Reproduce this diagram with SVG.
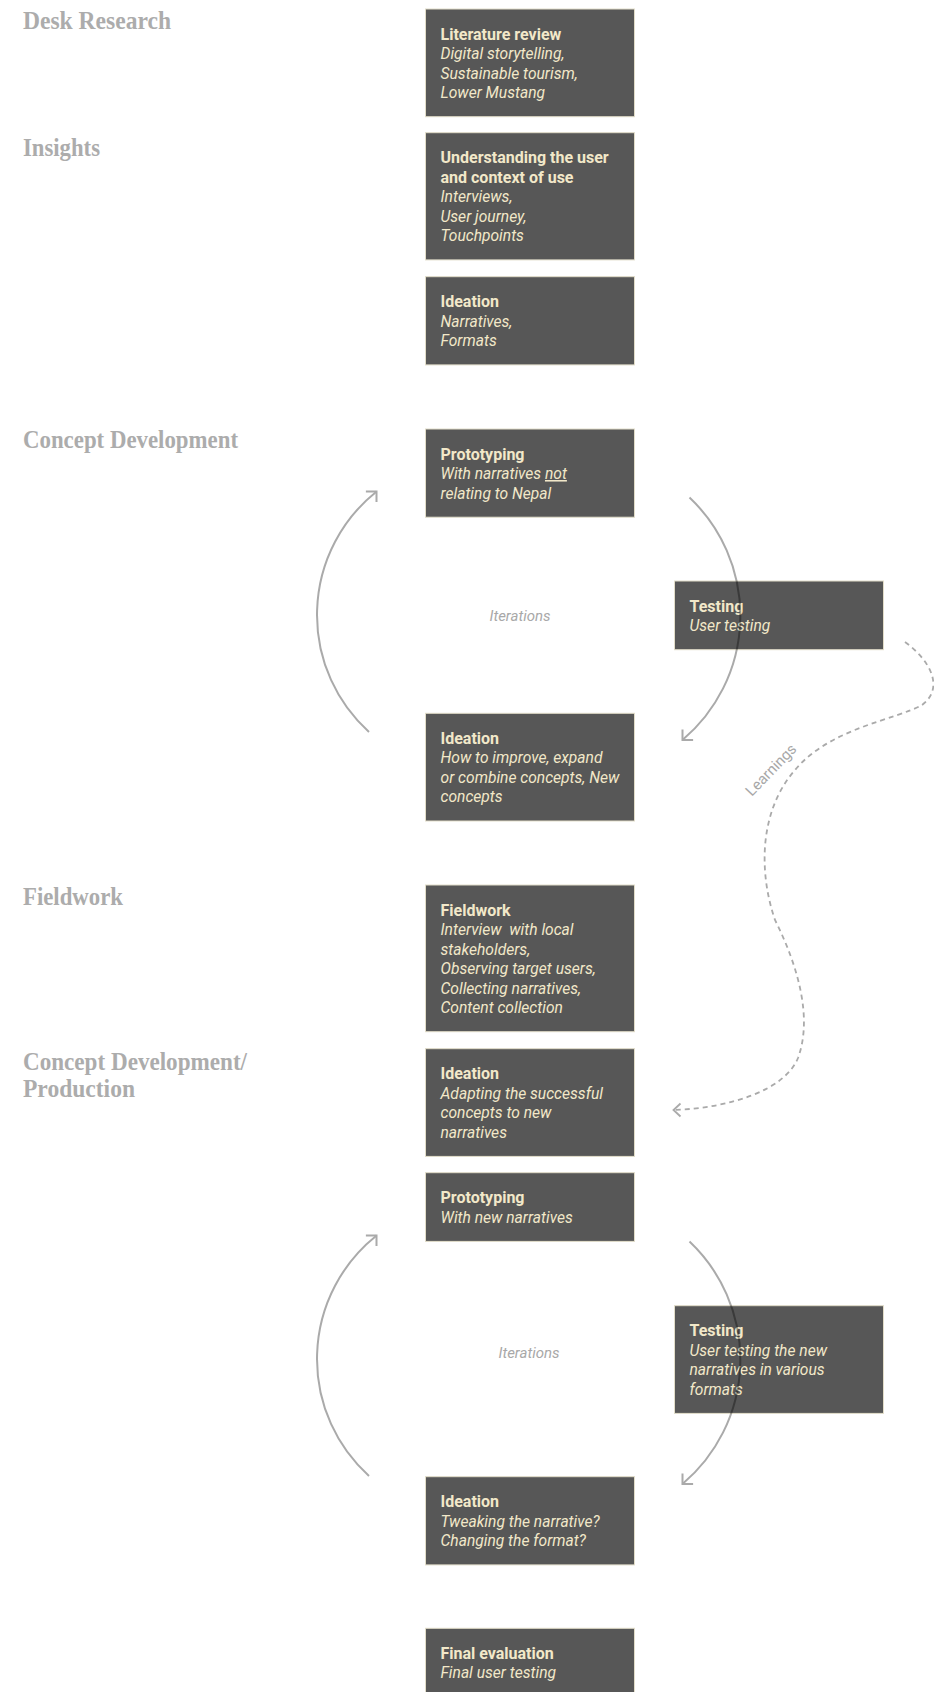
<svg xmlns="http://www.w3.org/2000/svg" width="934" height="1692" viewBox="0 0 934 1692">
<style>
.h{font-family:"Liberation Serif",serif;font-size:26px;font-weight:bold;fill:#acacac;}
.box{fill:#575757;stroke:#e2ddc9;stroke-width:1;}
.nt{font-family:Roboto,"Liberation Sans",sans-serif;font-size:16px;fill:#f2e8c9;}
.b{font-weight:bold;}
.i{font-style:italic;font-size:15.6px;}
.lbl{font-family:Roboto,"Liberation Sans",sans-serif;font-size:15px;fill:#a8a8a8;}
.arc{fill:none;stroke:#000;stroke-width:2;}
.dash{fill:none;stroke:#000;stroke-width:1.8;stroke-dasharray:5 4;}
</style>
<defs>
<marker id="ah" markerUnits="userSpaceOnUse" markerWidth="20" markerHeight="20" viewBox="-10 -10 20 20" refX="0" refY="0" orient="auto">
<path d="M -7.5 -7.5 L 0 0 L -7.5 7.5" fill="none" stroke="#000" stroke-width="2"/>
</marker>
<marker id="ahd" markerUnits="userSpaceOnUse" markerWidth="20" markerHeight="20" viewBox="-10 -10 20 20" refX="0" refY="0" orient="auto">
<path d="M -7 -6.5 L 0 0 L -7 6.5" fill="none" stroke="#000" stroke-width="1.8"/>
</marker>
</defs>
<rect width="934" height="1692" fill="#fff"/>

<g id="headings">
<text class="h" x="23" y="28.5" textLength="148" lengthAdjust="spacingAndGlyphs">Desk Research</text>
<text class="h" x="23" y="156" textLength="77" lengthAdjust="spacingAndGlyphs">Insights</text>
<text class="h" x="23" y="447.7" textLength="215" lengthAdjust="spacingAndGlyphs">Concept Development</text>
<text class="h" x="23" y="905" textLength="100" lengthAdjust="spacingAndGlyphs">Fieldwork</text>
<text class="h" x="23" y="1070" textLength="224" lengthAdjust="spacingAndGlyphs">Concept Development/</text>
<text class="h" x="23" y="1097.3" textLength="112" lengthAdjust="spacingAndGlyphs">Production</text>
</g>

<g id="n-literature">
<rect class="box" x="425.5" y="9" width="209" height="107.7"/>
<text class="nt"><tspan class="b" x="440.5" y="39.5">Literature review</tspan><tspan class="i" x="440.5" y="59">Digital storytelling,</tspan><tspan class="i" x="440.5" y="78.5">Sustainable tourism,</tspan><tspan class="i" x="440.5" y="98">Lower Mustang</tspan></text>
</g>
<g id="n-understanding">
<rect class="box" x="425.5" y="132.7" width="209" height="127.2"/>
<text class="nt"><tspan class="b" x="440.5" y="163.2">Understanding the user</tspan><tspan class="b" x="440.5" y="182.7">and context of use</tspan><tspan class="i" x="440.5" y="202.2">Interviews,</tspan><tspan class="i" x="440.5" y="221.7">User journey,</tspan><tspan class="i" x="440.5" y="241.2">Touchpoints</tspan></text>
</g>
<g id="n-ideation1">
<rect class="box" x="425.5" y="276.7" width="209" height="88.2"/>
<text class="nt"><tspan class="b" x="440.5" y="307.2">Ideation</tspan><tspan class="i" x="440.5" y="326.7">Narratives,</tspan><tspan class="i" x="440.5" y="346.2">Formats</tspan></text>
</g>
<g id="n-prototyping1">
<rect class="box" x="425.5" y="429" width="209" height="88.2"/>
<text class="nt"><tspan class="b" x="440.5" y="459.5">Prototyping</tspan><tspan class="i" x="440.5" y="479">With narratives <tspan text-decoration="underline">not</tspan></tspan><tspan class="i" x="440.5" y="498.5">relating to Nepal</tspan></text>
</g>
<g id="n-testing1">
<rect class="box" x="674.5" y="581" width="209" height="68.7"/>
<text class="nt"><tspan class="b" x="689.5" y="611.5">Testing</tspan><tspan class="i" x="689.5" y="631">User testing</tspan></text>
</g>
<g id="n-ideation2">
<rect class="box" x="425.5" y="713.3" width="209" height="107.7"/>
<text class="nt"><tspan class="b" x="440.5" y="743.8">Ideation</tspan><tspan class="i" x="440.5" y="763.3">How to improve, expand</tspan><tspan class="i" x="440.5" y="782.8">or combine concepts, New</tspan><tspan class="i" x="440.5" y="802.3">concepts</tspan></text>
</g>
<g id="n-fieldwork">
<rect class="box" x="425.5" y="885" width="209" height="146.7"/>
<text class="nt"><tspan class="b" x="440.5" y="915.5">Fieldwork</tspan><tspan class="i" x="440.5" y="935">Interview&#160; with local</tspan><tspan class="i" x="440.5" y="954.5">stakeholders,</tspan><tspan class="i" x="440.5" y="974">Observing target users,</tspan><tspan class="i" x="440.5" y="993.5">Collecting narratives,</tspan><tspan class="i" x="440.5" y="1013">Content collection</tspan></text>
</g>
<g id="n-ideation3">
<rect class="box" x="425.5" y="1048.7" width="209" height="107.7"/>
<text class="nt"><tspan class="b" x="440.5" y="1079.2">Ideation</tspan><tspan class="i" x="440.5" y="1098.7">Adapting the successful</tspan><tspan class="i" x="440.5" y="1118.2">concepts to new</tspan><tspan class="i" x="440.5" y="1137.7">narratives</tspan></text>
</g>
<g id="n-prototyping2">
<rect class="box" x="425.5" y="1172.7" width="209" height="68.7"/>
<text class="nt"><tspan class="b" x="440.5" y="1203.2">Prototyping</tspan><tspan class="i" x="440.5" y="1222.7">With new narratives</tspan></text>
</g>
<g id="n-testing2">
<rect class="box" x="674.5" y="1305.7" width="209" height="107.7"/>
<text class="nt"><tspan class="b" x="689.5" y="1336.2">Testing</tspan><tspan class="i" x="689.5" y="1355.7">User testing the new</tspan><tspan class="i" x="689.5" y="1375.2">narratives in various</tspan><tspan class="i" x="689.5" y="1394.7">formats</tspan></text>
</g>
<g id="n-ideation4">
<rect class="box" x="425.5" y="1476.7" width="209" height="88.2"/>
<text class="nt"><tspan class="b" x="440.5" y="1507.2">Ideation</tspan><tspan class="i" x="440.5" y="1526.7">Tweaking the narrative?</tspan><tspan class="i" x="440.5" y="1546.2">Changing the format?</tspan></text>
</g>
<g id="n-final">
<rect class="box" x="425.5" y="1628.3" width="209" height="68.7"/>
<text class="nt"><tspan class="b" x="440.5" y="1658.8">Final evaluation</tspan><tspan class="i" x="440.5" y="1678.3">Final user testing</tspan></text>
</g>

<g id="connectors">
<g opacity="0.33">
<path class="arc" d="M 369 732 A 157.7 157.7 0 0 1 376 492 l 0.5 -0.5" marker-end="url(#ah)"/>
<path class="arc" d="M 689.5 497.5 A 162.6 162.6 0 0 1 683 739.5 l -0.5 0.5" marker-end="url(#ah)"/>
<path class="arc" d="M 369 1476 A 157.7 157.7 0 0 1 376 1236 l 0.5 -0.5" marker-end="url(#ah)"/>
<path class="arc" d="M 689.5 1241.5 A 162.6 162.6 0 0 1 683 1483.5 l -0.5 0.5" marker-end="url(#ah)"/>
<path class="dash" d="M 905 642 C 930 660, 945 688, 922 705 C 895 720, 830 728, 795 770 C 760 810, 758 870, 775 920 C 800 970, 812 1020, 798 1058 C 785 1090, 730 1108, 674 1110 l -0.5 0" marker-end="url(#ahd)"/>
</g>
<text class="lbl i" x="520" y="621" text-anchor="middle">Iterations</text>
<text class="lbl i" x="529" y="1358" text-anchor="middle">Iterations</text>
<text class="lbl" transform="translate(771 770) rotate(-46)" x="0" y="5" text-anchor="middle">Learnings</text>
</g>
</svg>
